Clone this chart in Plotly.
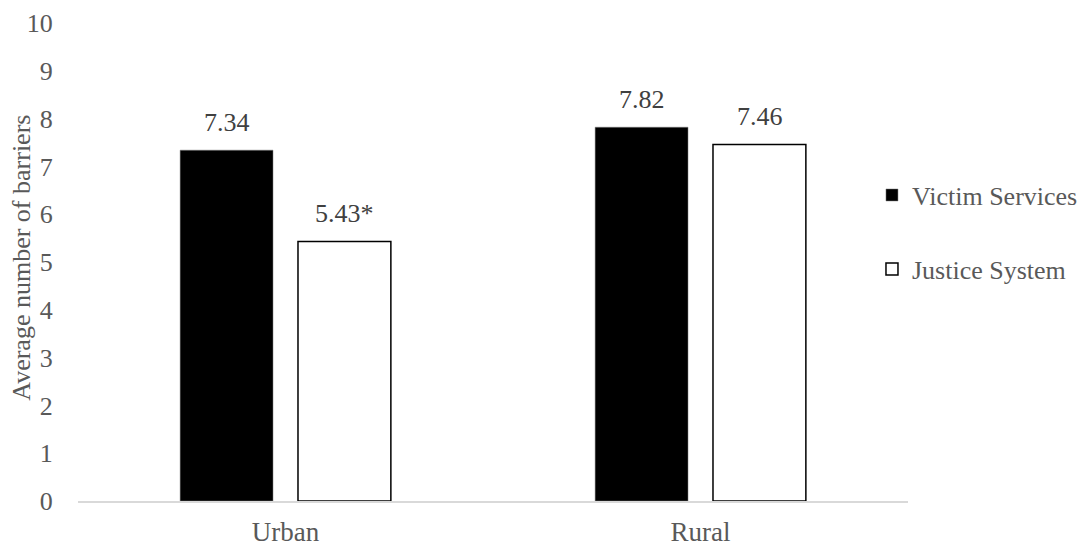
import plotly.graph_objects as go

# Average number of barriers by location
categories = ["Urban", "Rural"]
victim_services = [7.34, 7.82]
justice_system = [5.43, 7.46]
victim_labels = ["7.34", "7.82"]
justice_labels = ["5.43*", "7.46"]
y_ticks = [0, 1, 2, 3, 4, 5, 6, 7, 8, 9, 10]
y_title = "Average number of barriers"

FONT = "Times New Roman, Liberation Serif, serif"
TEXT_GRAY = "#595959"
LABEL_GRAY = "#404040"

fig = go.Figure()
fig.add_trace(go.Bar(
    x=categories, y=victim_services, name="Victim Services",
    marker=dict(color="black", line=dict(color="#7f7f7f", width=0.5)),
    legend="legend", showlegend=True,
))
fig.add_trace(go.Bar(
    x=categories, y=justice_system, name="Justice System",
    marker=dict(color="white", line=dict(color="black", width=1.5)),
    legend="legend2", showlegend=True,
))

# value labels above each bar
shift = 59
for cat, v, t in zip(categories, victim_services, victim_labels):
    fig.add_annotation(x=cat, y=v, text=t, showarrow=False, xshift=-shift,
                       yanchor="bottom", yshift=11,
                       font=dict(family=FONT, size=26, color=LABEL_GRAY))
for cat, v, t in zip(categories, justice_system, justice_labels):
    fig.add_annotation(x=cat, y=v, text=t, showarrow=False, xshift=shift,
                       yanchor="bottom", yshift=11,
                       font=dict(family=FONT, size=26, color=LABEL_GRAY))

# y-axis title, placed close to the tick labels
fig.add_annotation(xref="paper", yref="paper", x=-0.0675, y=0.509,
                   text=y_title, textangle=-90, showarrow=False,
                   xanchor="center", yanchor="middle",
                   font=dict(family=FONT, size=26, color=TEXT_GRAY))

legend_style = dict(
    xref="paper", yref="paper", xanchor="left", yanchor="middle",
    font=dict(family=FONT, size=26, color=TEXT_GRAY),
    bgcolor="rgba(0,0,0,0)", borderwidth=0,
)

fig.update_layout(
    width=1086, height=546,
    margin=dict(l=78, r=178, t=23, b=45, autoexpand=False),
    paper_bgcolor="white", plot_bgcolor="white",
    barmode="group", bargap=0.432, bargroupgap=0.212,
    font=dict(family=FONT, size=26, color=TEXT_GRAY),
    showlegend=True,
    legend=dict(x=0.9566, y=0.640, **legend_style),
    legend2=dict(x=0.9566, y=0.485, **legend_style),
    xaxis=dict(
        showline=True, linecolor="#d9d9d9", linewidth=1.5,
        ticks="outside", ticklen=6, tickcolor="rgba(0,0,0,0)",
        tickfont=dict(family=FONT, size=27, color=TEXT_GRAY),
        showgrid=False, zeroline=False, automargin=False,
    ),
    yaxis=dict(
        range=[0, 10], tickvals=y_ticks, showgrid=False, zeroline=False,
        showline=False, ticks="outside", ticklen=19, tickcolor="rgba(0,0,0,0)",
        tickfont=dict(family=FONT, size=26, color=TEXT_GRAY),
        automargin=False,
    ),
)

fig.write_html("out.html")
